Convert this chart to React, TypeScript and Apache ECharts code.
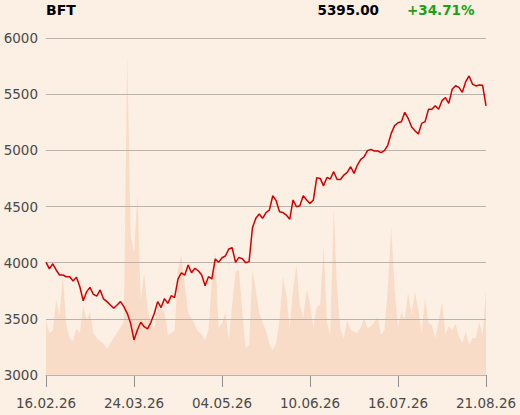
import React, { useEffect, useRef } from "react";
import * as echarts from "echarts";

// ---- data ----
const START_DATE = "2026-02-16";
const END_DATE = "2026-08-21";
const HOLIDAYS = ["2026-04-03", "2026-04-06", "2026-05-01", "2026-05-25"];

const PRICE = [
  4005, 3945, 3990, 3935, 3890, 3890, 3875, 3875, 3837, 3870,
  3786, 3661, 3742, 3780, 3718, 3703, 3757, 3677, 3653, 3623,
  3594, 3623, 3653, 3608, 3549, 3460, 3312, 3400, 3469, 3430,
  3410, 3469, 3549, 3653, 3600, 3680, 3638, 3706, 3688, 3855,
  3910, 3890, 3979, 3910, 3950, 3928, 3890, 3795, 3875, 3855,
  4033, 4003, 4044, 4059, 4122, 4133, 4003, 4047, 4035, 4000,
  4009, 4311, 4395, 4433, 4395, 4445, 4469, 4596, 4552, 4454,
  4446, 4424, 4386, 4558, 4498, 4507, 4596, 4558, 4528, 4558,
  4757, 4750, 4684, 4759, 4745, 4810, 4741, 4741, 4780, 4804,
  4854, 4795, 4869, 4919, 4943, 4997, 5009, 4994, 4994, 4979,
  4997, 5047, 5151, 5220, 5246, 5255, 5338, 5285, 5210, 5175,
  5145, 5240, 5255, 5365, 5365, 5397, 5365, 5442, 5469, 5418,
  5543, 5575, 5560, 5516, 5611, 5662, 5590, 5573, 5582, 5579,
  5395,
];

const VOLUME = [
  163, 125, 131, 223, 175, 297, 148, 110, 101, 139,
  125, 208, 163, 187, 125, 110, 101, 92, 77, 95,
  110, 125, 142, 157, 949, 415, 362, 534, 223, 303,
  199, 148, 139, 202, 196, 190, 119, 125, 131, 312,
  356, 267, 184, 169, 148, 128, 122, 104, 134, 282,
  362, 142, 151, 187, 104, 208, 306, 312, 187, 80,
  89, 312, 252, 184, 154, 131, 92, 74, 95, 163,
  291, 237, 139, 252, 326, 208, 169, 252, 214, 139,
  202, 208, 380, 157, 119, 495, 252, 134, 110, 163,
  134, 128, 125, 142, 169, 139, 145, 157, 172, 119,
  134, 261, 439, 252, 142, 187, 163, 246, 178, 246,
  193, 125, 228, 154, 148, 110, 157, 217, 122, 145,
  134, 151, 113, 95, 128, 89, 110, 110, 157, 119,
  252,
];

const TITLE = "BFT";
const LAST_VALUE = "5395.00";
const CHANGE = "+34.71%";

// trading-day category labels (dd.mm.yy)
function buildDates(): string[] {
  const out: string[] = [];
  const d = new Date(START_DATE + "T12:00:00Z");
  const end = new Date(END_DATE + "T12:00:00Z");
  while (d <= end) {
    const iso = d.toISOString().slice(0, 10);
    const wd = d.getUTCDay();
    if (wd !== 0 && wd !== 6 && HOLIDAYS.indexOf(iso) < 0) {
      out.push(iso.slice(8, 10) + "." + iso.slice(5, 7) + "." + iso.slice(2, 4));
    }
    d.setUTCDate(d.getUTCDate() + 1);
  }
  return out;
}
const DATES = buildDates();

const BG = "#fcefe3";
const FONT = "DejaVu Sans";

export default function App() {
  const ref = useRef<HTMLDivElement>(null);
  useEffect(() => {
    document.body.style.margin = "0";
    document.body.style.background = BG;
    if (!ref.current) return;
    const chart = echarts.init(ref.current, undefined, { renderer: "svg" });
    chart.setOption({
      animation: false,
      backgroundColor: BG,
      textStyle: { fontFamily: FONT },
      grid: { left: 46, right: 34, top: 38, bottom: 40, containLabel: false, outerBoundsMode: "none" },
      graphic: [
        {
          type: "text",
          x: 46,
          y: 10,
          style: { text: TITLE, fill: "#000", font: "bold 14px 'DejaVu Sans'", textAlign: "left", textVerticalAlign: "middle" },
        },
        {
          type: "text",
          x: 379,
          y: 10,
          style: { text: LAST_VALUE, fill: "#000", font: "bold 13.5px 'DejaVu Sans'", textAlign: "right", textVerticalAlign: "middle" },
        },
        {
          type: "text",
          x: 407,
          y: 10,
          style: { text: CHANGE, fill: "#17a317", font: "bold 13.5px 'DejaVu Sans'", textAlign: "left", textVerticalAlign: "middle" },
        },
      ],
      xAxis: {
        type: "category",
        data: DATES,
        boundaryGap: false,
        axisLine: { show: true, lineStyle: { color: "#8f8f8f", width: 1 } },
        axisTick: { show: true, interval: 25, length: 12, lineStyle: { color: "#8f8f8f", width: 1 } },
        axisLabel: { interval: 25, margin: 21, fontSize: 13.5, color: "#4a4a4a", fontFamily: FONT },
        splitLine: { show: false },
      },
      yAxis: [
        {
          type: "value",
          min: 3000,
          max: 6000,
          interval: 500,
          z: 3,
          axisLine: { show: false },
          axisTick: { show: false },
          axisLabel: {
            margin: 8,
            fontSize: 13.5,
            color: "#4a4a4a",
            fontFamily: FONT,
            formatter: (v: number) => String(v),
          },
          splitLine: { show: true, lineStyle: { color: "#b8b3ad", width: 1 } },
        },
        {
          type: "value",
          min: 0,
          max: 1000,
          show: false,
          splitLine: { show: false },
        },
      ],
      series: [
        {
          type: "line",
          name: "Volume",
          yAxisIndex: 1,
          data: VOLUME,
          symbol: "none",
          silent: true,
          z: 1,
          lineStyle: { width: 0, opacity: 0 },
          areaStyle: { color: "#f8dcc7", opacity: 1 },
        },
        {
          type: "line",
          name: TITLE,
          data: PRICE,
          symbol: "none",
          z: 5,
          lineStyle: { color: "#d40000", width: 1.5 },
        },
      ],
    });
    return () => chart.dispose();
  }, []);
  return (
    <div
      ref={ref}
      style={{ position: "absolute", left: 0, top: 0, width: 520, height: 415 }}
    />
  );
}
